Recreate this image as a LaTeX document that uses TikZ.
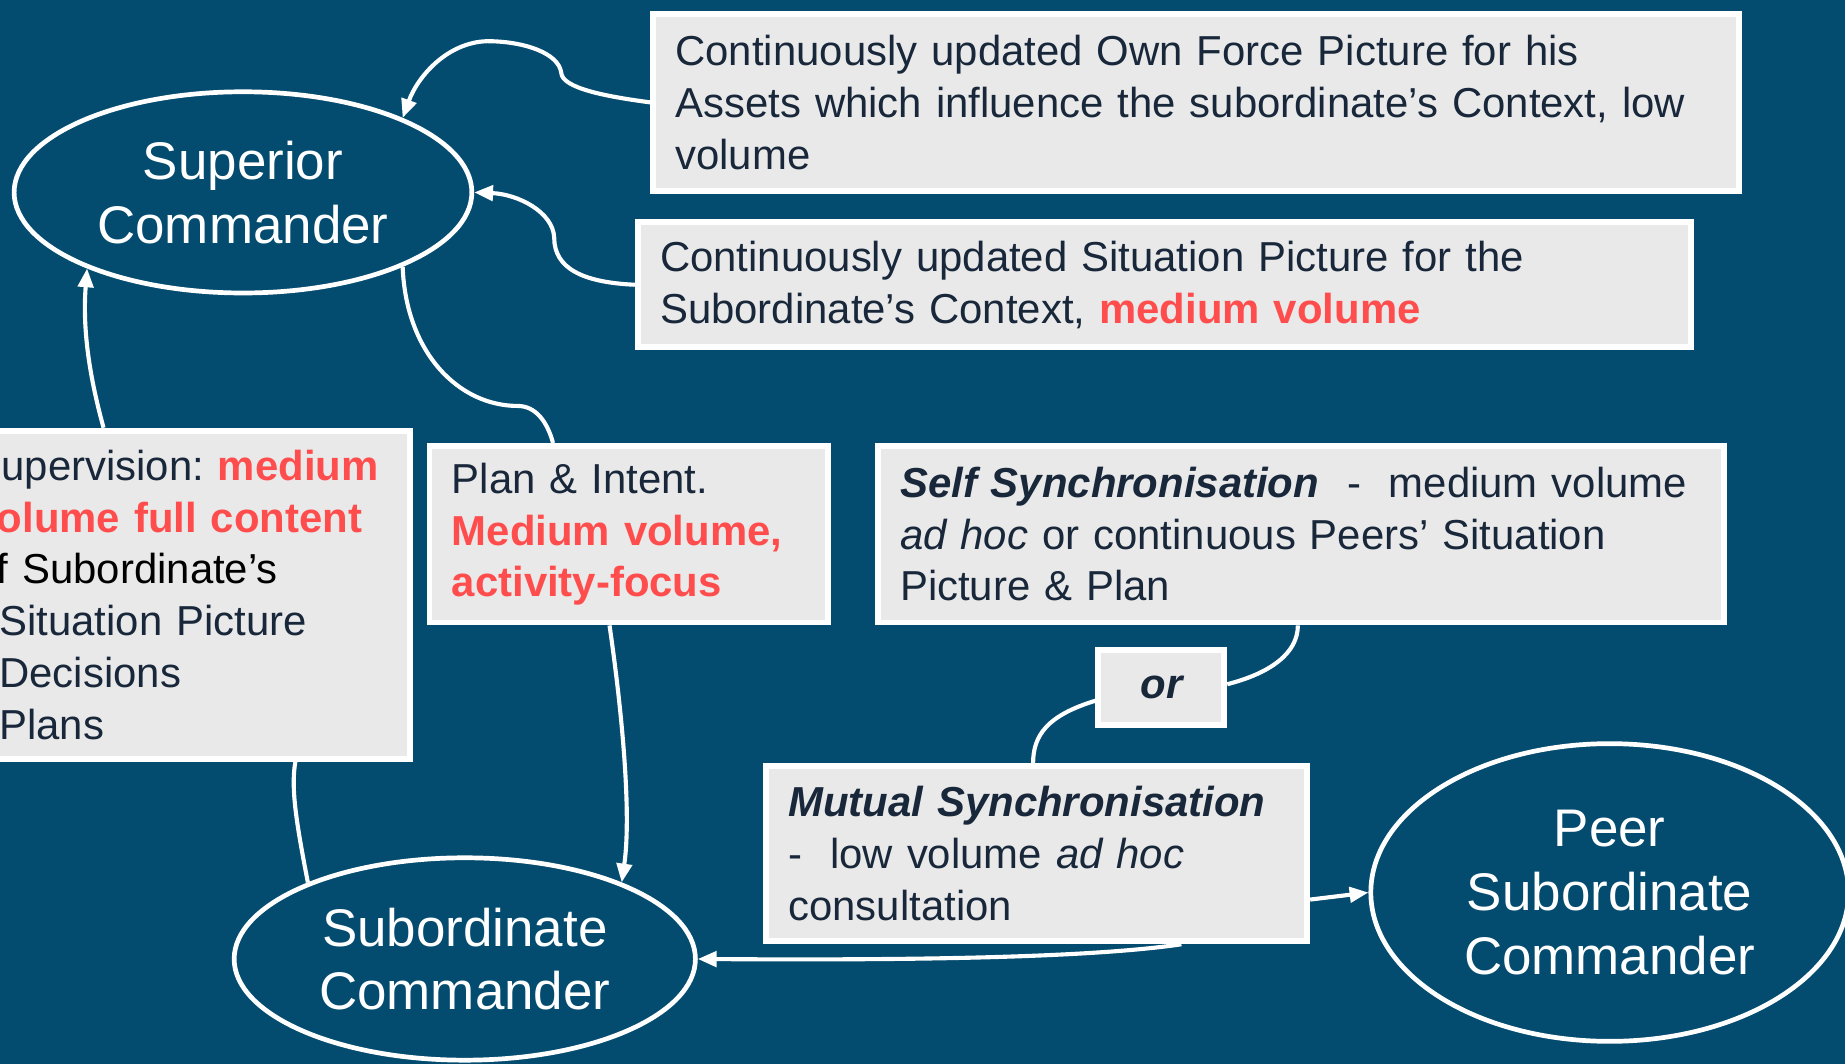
\documentclass[tikz,border=0pt]{standalone}
\usepackage{fontspec}
\setmainfont{Liberation Sans}
\usetikzlibrary{shapes.geometric,arrows.meta,calc}
\definecolor{bg}{HTML}{034B6F}
\definecolor{boxgray}{HTML}{E9E9E9}
\definecolor{ink}{HTML}{18273A}
\definecolor{hot}{HTML}{FF4D4D}
\newcommand{\hotbf}[1]{\textbf{\color{hot}#1}}
\begin{document}
\begin{tikzpicture}[x=1pt,y=-1pt,
 infobox/.style={rectangle, draw=white, line width=5pt, fill=boxgray, inner xsep=19pt, inner ysep=0pt, align=left, anchor=north west, text=ink, font=\fontsize{35.6}{44}\selectfont},
 cmd/.style={ellipse, draw=white, line width=4pt, inner sep=0pt, text=white, align=center, font=\fontsize{45}{54}\selectfont},
 link/.style={draw=white, line width=3.5pt},
 arr/.style={link, -{Triangle[length=16pt,width=13pt]}}]
\useasboundingbox (0,0) rectangle (1568,904);
\fill[bg] (0,0) rectangle (1568,904);
\clip (0,0) rectangle (1568,904);

\node[cmd, minimum width=389pt, minimum height=171pt] (sup) at (206.5,163.5) {Superior\\Commander};
\node[cmd, minimum width=392pt, minimum height=172pt] (sub) at (395,815) {Subordinate\\Commander};
\node[cmd, minimum width=406pt, minimum height=253pt] (peer) at (1368,758.5) {Peer\\Subordinate\\Commander};

\node[infobox, text width=885pt, minimum height=150pt] (own) at (552.5,9.5) {Continuously updated Own Force Picture for his\\Assets which influence the subordinate’s Context, low\\volume};
\node[infobox, text width=857pt, minimum height=106pt] (sit) at (539.5,186.5) {Continuously updated Situation Picture for the\\Subordinate’s Context, \hotbf{medium volume}};
\node[infobox, text width=352pt, minimum height=279pt] (supvis) at (-44,363.5) {Supervision:~\hotbf{medium}\\\hotbf{volume~full~content}\\\textcolor{black}{of Subordinate’s}\\\hspace*{22pt}Situation Picture\\\hspace*{22pt}Decisions\\\hspace*{22pt}Plans};
\node[infobox, text width=301pt, minimum height=150pt] (plan) at (362.5,376.5) {Plan \& Intent.\\\hotbf{Medium volume,}\\\hotbf{activity-focus}};
\node[infobox, text width=681pt, minimum height=150pt] (self) at (743.5,376.5) {\textbf{\textit{Self Synchronisation}}\ \ -\ \ medium volume\\\textit{ad hoc} or continuous Peers’ Situation\\Picture \& Plan};
\node[infobox, anchor=center, inner xsep=0pt, align=center, minimum width=107pt, minimum height=64pt, font=\fontsize{35.6}{44}\selectfont\bfseries\itshape] (or) at (987,584.5) {or};
\node[infobox, text width=422pt, minimum height=149pt] (mutual) at (648.5,648.5) {\textbf{\textit{Mutual Synchronisation}}\\-\ \ low volume \textit{ad hoc}\\consultation};

\draw[arr] (own.west) .. controls (515,82) and (478,75) .. (477,62) .. controls (475,45) and (445,35) .. (414,35) .. controls (380,36) and (355,65) .. (sup.25);
\draw[arr] (sit.west) .. controls (495,240) and (471,228) .. (471,202) .. controls (470,180) and (440,165) .. (sup.0);
\draw[link] (sup.-25) .. controls (345,300) and (390,345) .. (440,345) .. controls (455,345) and (465,358) .. ([xshift=107.5pt]plan.north west);
\draw[arr] ([xshift=155.5pt]plan.south west) .. controls (528,600) and (537,690) .. (sub.26);
\draw[link] (sub.154) .. controls (252,700) and (247,670) .. ([xshift=-100pt]supvis.south east);
\draw[arr] ([xshift=-263pt]supvis.north east) .. controls (76,320) and (70,280) .. (sup.-154);
\draw[link] ([xshift=359.5pt]self.south west) .. controls (1103,555) and (1080,572) .. ([yshift=3pt]or.east);
\draw[link] ([yshift=-11pt]or.west) .. controls (890,608) and (878,625) .. ([xshift=229.5pt]mutual.north west);
\draw[arr] ([yshift=-39pt]mutual.east) -- (peer.west);
\draw[arr] ([xshift=355.5pt]mutual.south west) .. controls (920,815) and (750,816) .. (sub.east);
\end{tikzpicture}
\end{document}
